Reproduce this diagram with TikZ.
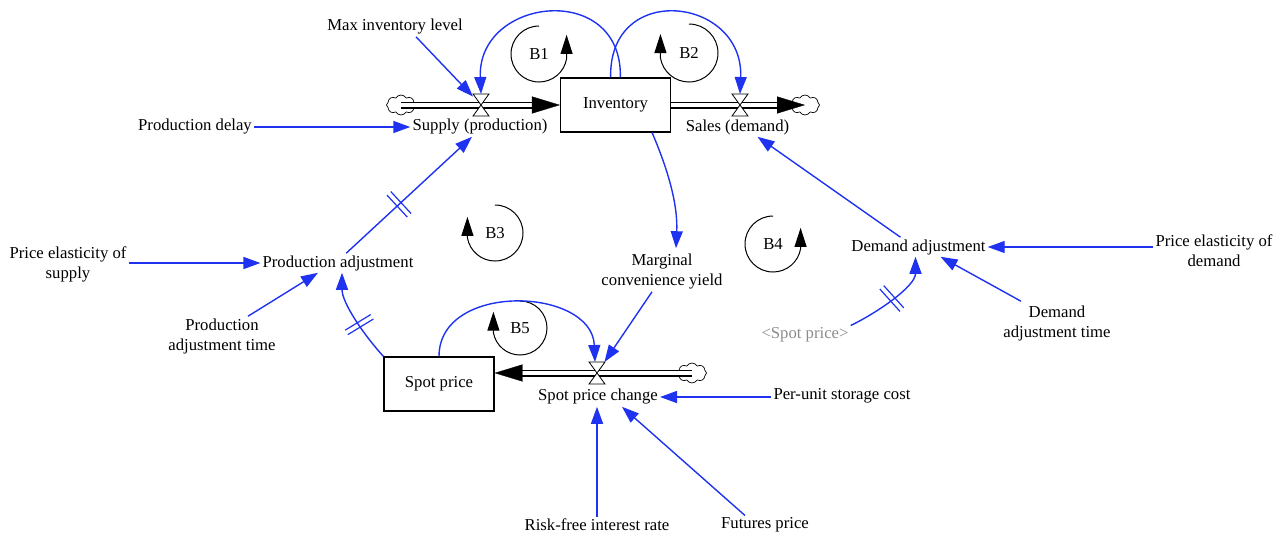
\documentclass[tikz,border=0pt]{standalone}
\usepackage{fontspec}
\setmainfont{Liberation Serif}
\usetikzlibrary{arrows.meta,calc,shapes.symbols,decorations.markings}

\definecolor{linkblue}{RGB}{30,50,240}
\definecolor{ghost}{RGB}{140,140,140}

\tikzset{
  lbl/.style={font=\fontsize{16.7}{20}\selectfont, inner sep=2pt, align=center},
  stock/.style={lbl, draw=black, line width=1.1pt, minimum width=110pt, minimum height=54pt},
  valvebox/.style={minimum width=16pt, minimum height=22pt, inner sep=0pt, outer sep=0pt},
  valveline/.style={draw=black, fill=white, line width=0.8pt, line join=miter},
  source/.style={cloud, cloud puffs=8, cloud puff arc=120, aspect=1.5,
    minimum width=29pt, minimum height=20pt, inner sep=0pt,
    draw=black, fill=white, line width=0.7pt},
  pipe/.style={draw=black, line width=1.2pt, double=white, double distance=4.6pt},
  flowtip/.style={draw=white, line width=0.3pt, -{Triangle[length=28pt,width=17pt,color=black]}},
  link/.style={draw=linkblue, line width=1.4pt, -{Triangle[length=17pt,width=12pt]}},
  loopline/.style={draw=black, line width=1pt, -{Triangle[length=19pt,width=12pt]}},
  delaymark/.style={postaction={decorate, decoration={markings,
    mark=at position #1 with {\draw[-, draw=linkblue, line width=1.2pt]
      (-2.6pt,-15pt) -- (-2.6pt,15pt) (2.6pt,-15pt) -- (2.6pt,15pt);}}}},
}

% hourglass valve drawn over a flow pipe
\newcommand{\drawvalve}[1]{\draw[valveline] (#1.north west) -- (#1.north east) -- (#1.south west) -- (#1.south east) -- cycle;}

\begin{document}
\begin{tikzpicture}[x=1pt,y=-1pt]
\useasboundingbox (0,0) rectangle (1283,536);

% stocks
\node[stock] (inv) at (615.5,105) {Inventory};
\node[stock] (spot) at (439,384) {Spot price};

% sources and sinks
\node[source] (lcloud) at (401,105) {};
\node[source] (rcloud) at (805,105) {};
\node[source] (scloud) at (692,373) {};

% valve positions
\node[valvebox] (sv) at (481,105) {};
\node[valvebox] (salev) at (740,105) {};
\node[valvebox] (spv) at (597,373) {};
\coordinate (spotin) at (spot.east |- spv);

% flow pipes
\draw[pipe, shorten >=27pt] (lcloud.center) -- (inv.west);
\draw[flowtip] (lcloud.center) -- (inv.west);
\draw[pipe, shorten >=27pt] (inv.east) -- (rcloud.center);
\draw[flowtip] (inv.east) -- (rcloud.center);
\draw[pipe, shorten >=27pt] (scloud.center) -- (spotin);
\draw[flowtip] (scloud.center) -- (spotin);

\drawvalve{sv}
\drawvalve{salev}
\drawvalve{spv}

% variables
\node[lbl] (maxinv) at (395,27) {Max inventory level};
\node[lbl] (pd) at (195,127) {Production delay};
\node[lbl] (supply) at (480,127) {Supply (production)};
\node[lbl] (sales) at (737.5,127) {Sales (demand)};
\node[lbl] (pes) at (68,264.5) {Price elasticity of\\supply};
\node[lbl] (prodadj) at (338,263) {Production adjustment};
\node[lbl] (pat) at (222,336) {Production\\adjustment time};
\node[lbl] (mcy) at (662,272) {Marginal\\convenience yield};
\node[lbl] (dadj) at (918.5,247) {Demand adjustment};
\node[lbl] (ped) at (1214,250.5) {Price elasticity of\\demand};
\node[lbl] (dat) at (1057,323) {Demand\\adjustment time};
\node[lbl, text=ghost] (sp2) at (805,335) {<Spot price>};
\node[lbl] (spc) at (598,397) {Spot price change};
\node[lbl] (psc) at (842,396) {Per-unit storage cost};
\node[lbl] (rfir) at (597,525) {Risk-free interest rate};
\node[lbl] (fp) at (765,525) {Futures price};

% loop markers
\node[lbl] (b1) at (539,54) {B1};
\node[lbl] (b2) at (689,53) {B2};
\node[lbl] (b3) at (495,233) {B3};
\node[lbl] (b4) at (773,244) {B4};
\node[lbl] (b5) at (520,328) {B5};
\draw[loopline] ([shift={(270:28)}]b1.center) arc[start angle=270, end angle=10, radius=28] -- ++(0,-24);
\draw[loopline] ([shift={(270:29)}]b2.center) arc[start angle=270, end angle=530, radius=29] -- ++(0,-24);
\draw[loopline] ([shift={(270:28)}]b3.center) arc[start angle=270, end angle=530, radius=28] -- ++(0,-21);
\draw[loopline] ([shift={(270:28)}]b4.center) arc[start angle=270, end angle=10, radius=28] -- ++(0,-21);
\draw[loopline] ([shift={(270:27)}]b5.center) arc[start angle=270, end angle=530, radius=27] -- ++(0,-21);

% causal links
\draw[link] (maxinv.-25) -- (sv);
\draw[link] (pd) -- (supply);
\draw[link, delaymark=0.42] (prodadj.50) -- ($(supply.south)+(-8,0)$);
\draw[link] (prodadj.west -| pes.east) -- (prodadj.west);
\draw[link] ($(pat.north)+(26,0)$) -- ($(prodadj.south)+(-20,0)$);
\draw[link, delaymark=0.42] (spot.north west) .. controls +(-20,-22) and +(0,30) .. ($(prodadj.south)+(4,0)$);
\draw[link] (inv.80) .. controls +(2,-97) and +(-4,-97) .. (sv.north);
\draw[link] (inv.100) .. controls +(-2,-97) and +(4,-97) .. (salev.north);
\draw[link] (inv.-37) .. controls +(15,35) and +(2,-45) .. ($(mcy.north)+(14,-4)$);
\draw[link] ($(mcy.south)+(-10,0)$) -- (spv);
\draw[link] (spot.north) .. controls +(0,-75) and +(-3,-75) .. ($(spv.north)+(-2,0)$);
\draw[link] ($(dadj.north)+(-18,0)$) -- ($(sales.south)+(20,0)$);
\draw[link] (dadj.east -| ped.west) -- (dadj.east);
\draw[link] ($(dat.north)+(-36,-2)$) -- ($(dadj.south)+(22,0)$);
\draw[link, delaymark=0.5] (sp2.north east) .. controls +(25,-12) and +(0,30) .. ($(dadj.south)+(-3,0)$);
\draw[link] (spc.east -| psc.west) -- (spc.east);
\draw[link] (rfir.north) -- (rfir.north |- spc.south);
\draw[link] ($(fp.north)+(-20,0)$) -- ($(spc.south)+(24,0)$);
\end{tikzpicture}
\end{document}
